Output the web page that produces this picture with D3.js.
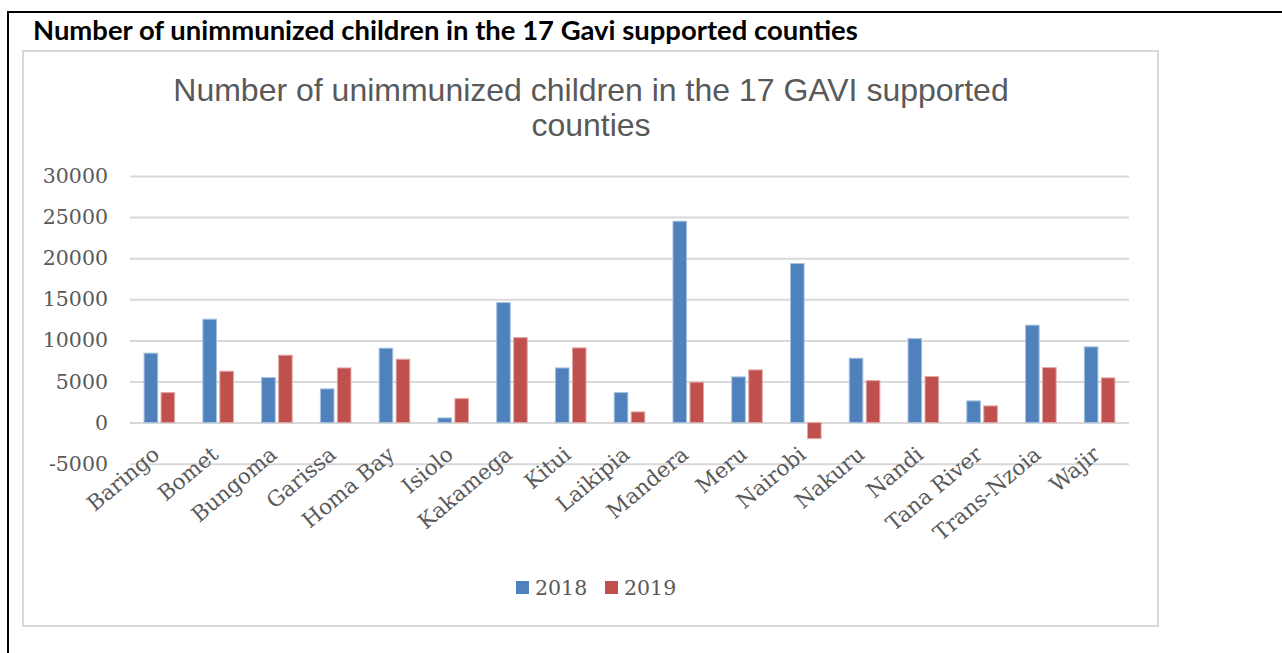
<!DOCTYPE html>
<html>
<head>
<meta charset="utf-8">
<script src="https://cdn.jsdelivr.net/npm/d3@7"></script>
<style>
  body { margin: 0; background: #fff; }
  svg { display: block; }
</style>
</head>
<body>
<script>
// values
var counties = ["Baringo", "Bomet", "Bungoma", "Garissa", "Homa Bay", "Isiolo", "Kakamega", "Kitui",
    "Laikipia", "Mandera", "Meru", "Nairobi", "Nakuru", "Nandi", "Tana River", "Trans-Nzoia", "Wajir"];
var years = ["2018", "2019"];
var values2018 = [8450, 12580, 5480, 4100, 9050, 570, 14600, 6650, 3650, 24500, 5560, 19350, 7830, 10220, 2640, 11850, 9210];
var values2019 = [3650, 6250, 8200, 6650, 7710, 2920, 10340, 9090, 1300, 4920, 6410, -1950, 5110, 5600, 2030, 6690, 5440];
var yTicks = [-5000, 0, 5000, 10000, 15000, 20000, 25000, 30000];
var colors = ["#4f81bd", "#c0504d"];
var strokes = ["#a7c0de", "#e0a8a6"];

function run_d3 () {

    var width = 1282,
        height = 653;

    var svg = d3.select( "body" )
        .append( "svg" )
        .attr( "width", width )
        .attr( "height", height );

    // document frame lines (black)
    svg.append( "line" )
        .attr( "x1", 8 ).attr( "x2", 8 )
        .attr( "y1", 12 ).attr( "y2", height )
        .attr( "stroke", "#000" ).attr( "stroke-width", 2 );
    svg.append( "line" )
        .attr( "x1", 7 ).attr( "x2", width )
        .attr( "y1", 12 ).attr( "y2", 12 )
        .attr( "stroke", "#000" ).attr( "stroke-width", 2 );

    // bold caption above the chart, fitted to its width in the picture
    var caption = svg.append( "text" )
        .attr( "x", 33 )
        .attr( "y", 40 )
        .attr( "font-family", "Lato, 'Open Sans', sans-serif" )
        .attr( "font-weight", "bold" )
        .attr( "font-size", 20 )
        .attr( "fill", "#000" )
        .text( "Number of unimmunized children in the 17 Gavi supported counties" );
    var w = caption.node().getComputedTextLength();
    caption.attr( "font-size", 20 * 825 / w );

    // chart area border
    svg.append( "rect" )
        .attr( "x", 23 ).attr( "y", 51 )
        .attr( "width", 1135 ).attr( "height", 575 )
        .attr( "fill", "none" )
        .attr( "stroke", "#d9d9d9" )
        .attr( "stroke-width", 2 );

    // chart title
    var title = svg.append( "text" )
        .attr( "text-anchor", "middle" )
        .attr( "font-family", "'Liberation Sans', Arial, sans-serif" )
        .attr( "font-size", 32 )
        .attr( "fill", "#595959" );
    title.append( "tspan" ).attr( "x", 591 ).attr( "y", 101 )
        .text( "Number of unimmunized children in the 17 GAVI supported" );
    title.append( "tspan" ).attr( "x", 591 ).attr( "y", 136 )
        .text( "counties" );

    var x0 = d3.scaleBand()
        .domain( counties )
        .range( [130, 1129] )
        .paddingInner( 0.48 )
        .paddingOuter( 0.24 );

    var x1 = d3.scaleBand()
        .domain( years )
        .range( [0, x0.bandwidth()] )
        .paddingInner( 0.2 );

    var y = d3.scaleLinear()
        .domain( [-5000, 30000] )
        .range( [463.7, 176] );

    var labelFont = "'DejaVu Serif', Cambria, serif";

    // gridlines
    var grid = svg.append( "g" )
        .attr( "transform", "translate(130,0)" )
        .call( d3.axisLeft( y ).tickValues( yTicks ).tickSize( -999 ).tickFormat( "" ) );
    grid.select( ".domain" ).remove();
    grid.selectAll( "line" ).attr( "stroke", "#d9d9d9" ).attr( "stroke-width", 2 );

    // y tick labels (plain hyphen for the minus sign, as in the original)
    var yAxis = svg.append( "g" )
        .attr( "transform", "translate(108,0)" )
        .call( d3.axisLeft( y ).tickValues( yTicks ).tickSize( 0 ).tickPadding( 0 )
            .tickFormat( function(d){ return String( d ); } ) );
    yAxis.select( ".domain" ).remove();
    yAxis.selectAll( "text" )
        .attr( "font-family", labelFont )
        .attr( "font-size", 20.5 )
        .attr( "fill", "#595959" );

    // bars
    var series = [values2018, values2019];
    var groups = svg.append( "g" ).selectAll( "g" )
        .data( years )
        .enter()
        .append( "g" );

    groups.selectAll( "rect" )
        .data( function(yr, i){
            return series[i].map( function(v, j){ return { county: counties[j], value: v, year: yr, k: i }; } );
        })
        .enter()
        .append( "rect" )
        .attr( "x", function(d){ return x0( d.county ) + x1( d.year ); } )
        .attr( "y", function(d){ return y( Math.max( 0, d.value ) ); } )
        .attr( "width", x1.bandwidth() )
        .attr( "height", function(d){ return Math.abs( y( d.value ) - y( 0 ) ); } )
        .attr( "fill", function(d){ return colors[d.k]; } )
        .attr( "stroke", function(d){ return strokes[d.k]; } )
        .attr( "stroke-width", 1 );

    // category labels, rotated
    var xAxis = svg.append( "g" )
        .attr( "transform", "translate(0,458)" )
        .call( d3.axisBottom( x0 ).tickSize( 0 ).tickPadding( 0 ) );
    xAxis.select( ".domain" ).remove();
    xAxis.selectAll( "text" )
        .attr( "font-family", labelFont )
        .attr( "font-size", 21.5 )
        .attr( "fill", "#595959" )
        .attr( "text-anchor", "end" )
        .attr( "dy", 0 )
        .attr( "x", 2 )
        .attr( "y", 0 )
        .attr( "transform", "rotate(-40)" );

    // legend
    var legend = svg.append( "g" );
    var lx = [516, 605];
    years.forEach( function(yr, i){
        legend.append( "rect" )
            .attr( "x", lx[i] ).attr( "y", 581 )
            .attr( "width", 13 ).attr( "height", 13 )
            .attr( "fill", colors[i] );
        legend.append( "text" )
            .attr( "x", lx[i] + 19 ).attr( "y", 595 )
            .attr( "font-family", labelFont )
            .attr( "font-size", 20.5 )
            .attr( "fill", "#595959" )
            .text( yr );
    });
}

window.onload = run_d3;
</script>
</body>
</html>
